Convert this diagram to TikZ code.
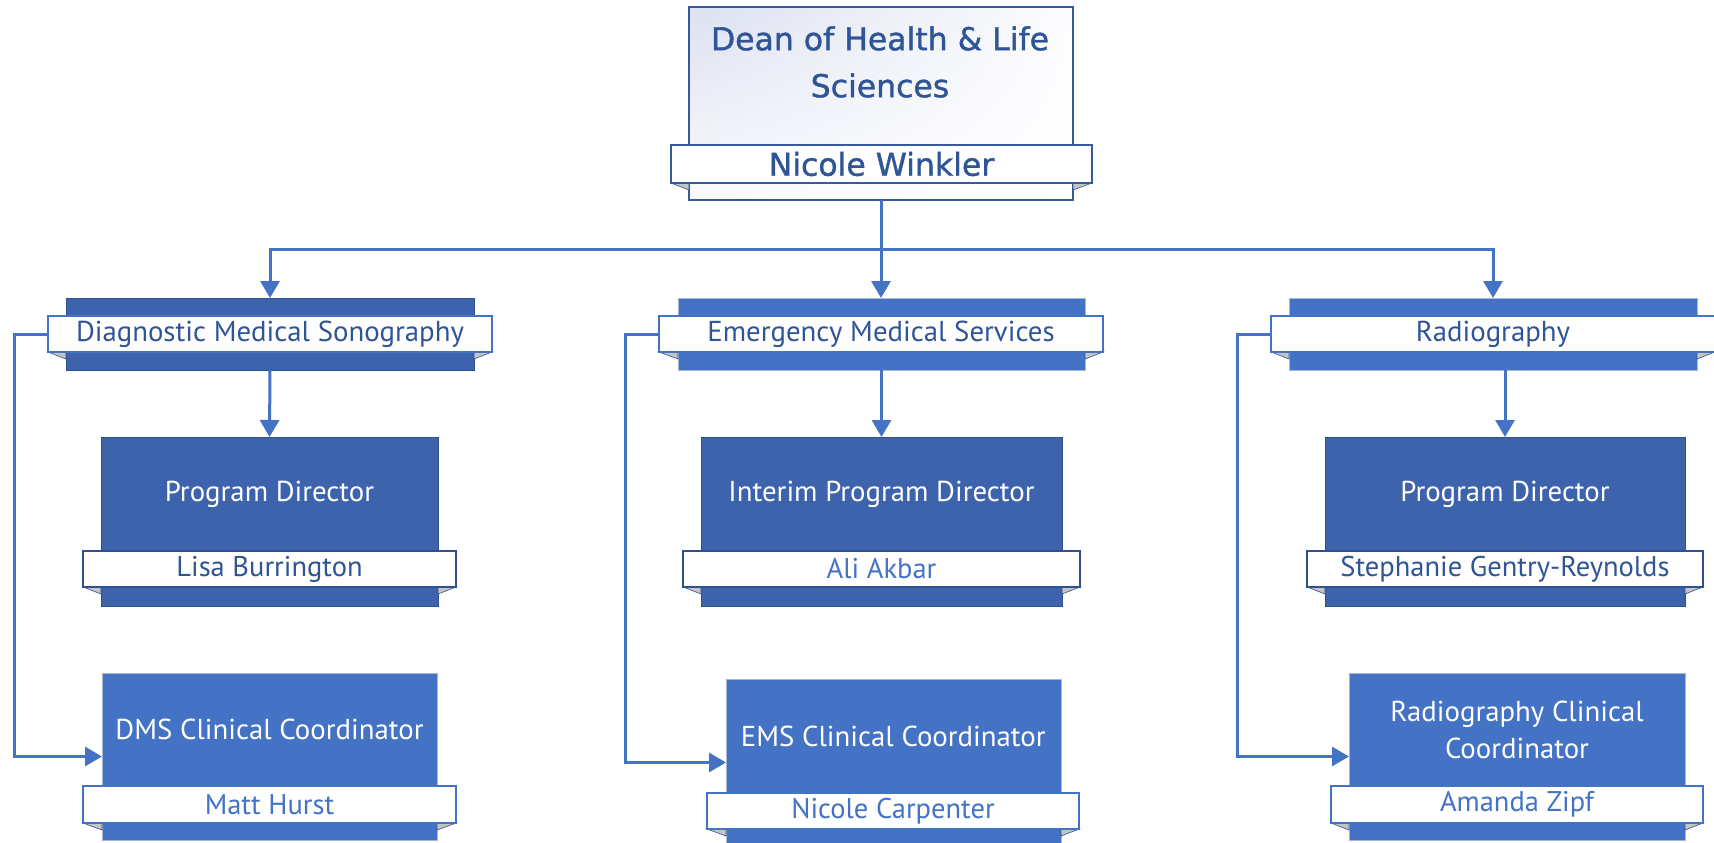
\documentclass[tikz,border=0pt]{standalone}
\usepackage{fontspec}
\setmainfont{PT Sans}
\newfontfamily\deanfont[FakeBold=1.2]{DejaVu Sans}
\usetikzlibrary{arrows.meta,calc,shadings}
\definecolor{lblue}{HTML}{4472C4}
\definecolor{dblue}{HTML}{3E63AD}
\definecolor{dtext}{HTML}{2F5597}
\definecolor{dedge}{HTML}{2F528F}
\definecolor{gedge}{HTML}{A9B6D0}
\definecolor{foldg}{HTML}{C4C4C4}
\definecolor{lav}{HTML}{DDE1F1}
\tikzset{
  every node/.style={inner sep=0pt,outer sep=0pt},
  darkbox/.style={rectangle,draw=dedge,line width=1pt,fill=dblue},
  lightbox/.style={rectangle,draw=gedge,line width=1pt,fill=lblue},
  banbase/.style={rectangle,fill=white,line width=1.3pt,font=\fontsize{28.5}{32}\selectfont},
  lvlban/.style={banbase,draw=lblue,text=dtext,font=\fontsize{28.8}{32}\selectfont},
  darkban/.style={banbase,draw=dedge},
  lightban/.style={banbase,draw=lblue},
  nametext/.style={text=#1},
  titletext/.style={text=white,align=center,font=\fontsize{28.8}{37}\selectfont},
  deanbox/.style={rectangle,draw=lblue!80!black,line width=1.3pt,upper left=lav,upper right=white!92!lav,lower left=white!85!lav,lower right=white},
  deanban/.style={rectangle,draw=lblue!80!black,line width=1.3pt,fill=white,text=dtext,font=\deanfont\fontsize{31.5}{36}\selectfont},
  deantext/.style={text=dtext,align=center,font=\deanfont\fontsize{31.5}{47}\selectfont},
  foldpiece/.style={fill=foldg,draw=dedge,line width=0.6pt},
  conn/.style={draw=lblue,line width=3pt},
  arr/.style={conn,-{Triangle[length=17pt,width=19pt]}}
}
\newcommand\ribbonfolds[2]{%
  \filldraw[foldpiece] (#2.south west) -- (#1.west |- #2.south) -- ++(0,7) -- cycle;
  \filldraw[foldpiece] (#2.south east) -- (#1.east |- #2.south) -- ++(0,7) -- cycle;}
\begin{document}
\begin{tikzpicture}[x=1pt,y=-1pt]
\useasboundingbox (0,0) rectangle (1714,843);
\fill[white] (0,0) rectangle (1714,843);

% Dean
\node[deanbox,minimum width=384,minimum height=193] (dean) at (881,103.5) {};
\node[deantext] (deantitle) at (880,62) {Dean of Health \& Life\\Sciences};
\node[minimum width=421,minimum height=38] (deanBg) at (881.5,164) {};
\ribbonfolds{dean}{deanBg}
\node[deanban,minimum width=421,minimum height=38] (deanB) at (881.5,164) {Nicole Winkler};

% Level 2
\node[darkbox,minimum width=408,minimum height=72] (dms) at (270,334) {};
\node[minimum width=444,minimum height=36] (dmsBg) at (270,334) {};
\ribbonfolds{dms}{dmsBg}
\node[lvlban,minimum width=444,minimum height=36] (dmsB) at (270,334) {Diagnostic Medical Sonography};

\node[lightbox,minimum width=407,minimum height=72] (ems) at (881.5,334) {};
\node[minimum width=444,minimum height=36] (emsBg) at (881,334) {};
\ribbonfolds{ems}{emsBg}
\node[lvlban,minimum width=444,minimum height=36] (emsB) at (881,334) {Emergency Medical Services};

\node[lightbox,minimum width=408,minimum height=72] (rad) at (1493,334) {};
\node[minimum width=444,minimum height=36] (radBg) at (1493,334) {};
\ribbonfolds{rad}{radBg}
\node[lvlban,minimum width=444,minimum height=36] (radB) at (1493,334) {Radiography};

% Program directors
\node[darkbox,minimum width=337,minimum height=169] (dmsPD) at (269.5,521.5) {};
\node[minimum width=373,minimum height=36] (dmsPDBg) at (269.5,569) {};
\ribbonfolds{dmsPD}{dmsPDBg}
\node[darkban,nametext=dtext,minimum width=373,minimum height=36] (dmsPDB) at (269.5,569) {Lisa Burrington};
\node[titletext] (dmsPDt) at ($(dmsPD.north)!0.5!(dmsPDB.north)$) {Program Director};

\node[darkbox,minimum width=361,minimum height=169] (emsPD) at (881.5,521.5) {};
\node[minimum width=397,minimum height=36] (emsPDBg) at (881.5,569) {};
\ribbonfolds{emsPD}{emsPDBg}
\node[darkban,nametext=lblue,minimum width=397,minimum height=36] (emsPDB) at (881.5,569) {Ali Akbar};
\node[titletext] (emsPDt) at ($(emsPD.north)!0.5!(emsPDB.north)$) {Interim Program Director};

\node[darkbox,minimum width=360,minimum height=169] (radPD) at (1505,521.5) {};
\node[minimum width=396,minimum height=36] (radPDBg) at (1505,569) {};
\ribbonfolds{radPD}{radPDBg}
\node[darkban,nametext=dtext,minimum width=396,minimum height=36] (radPDB) at (1505,569) {Stephanie Gentry-Reynolds};
\node[titletext] (radPDt) at ($(radPD.north)!0.5!(radPDB.north)$) {Program Director};

% Clinical coordinators
\node[lightbox,minimum width=335,minimum height=167] (dmsCC) at (269.5,756.5) {};
\node[minimum width=373,minimum height=37] (dmsCCBg) at (269.5,804.5) {};
\ribbonfolds{dmsCC}{dmsCCBg}
\node[lightban,nametext=lblue,minimum width=373,minimum height=37] (dmsCCB) at (269.5,804.5) {Matt Hurst};
\node[titletext] (dmsCCt) at ($(dmsCC.north)!0.5!(dmsCCB.north)$) {DMS Clinical Coordinator};

\node[lightbox,minimum width=335,minimum height=167] (emsCC) at (893.5,762.5) {};
\node[minimum width=372,minimum height=36] (emsCCBg) at (893,811) {};
\ribbonfolds{emsCC}{emsCCBg}
\node[lightban,nametext=lblue,minimum width=372,minimum height=36] (emsCCB) at (893,811) {Nicole Carpenter};
\node[titletext] (emsCCt) at ($(emsCC.north)!0.5!(emsCCB.north)$) {EMS Clinical Coordinator};

\node[lightbox,minimum width=336,minimum height=167] (radCC) at (1517,756.5) {};
\node[minimum width=372,minimum height=37] (radCCBg) at (1517,804.5) {};
\ribbonfolds{radCC}{radCCBg}
\node[lightban,nametext=lblue,minimum width=372,minimum height=37] (radCCB) at (1517,804.5) {Amanda Zipf};
\node[titletext] (radCCt) at ($(radCC.north)!0.5!(radCCB.north)$) {Radiography Clinical\\Coordinator};

% Connectors
\coordinate (bus) at (881,249);
\draw[arr] (dean.south) -- (bus) -| (dms.north);
\draw[arr] (bus) -- (bus |- ems.north);
\draw[arr] (bus) -| (rad.north);
\draw[arr] (dms.south) -- (dmsPD.north);
\draw[arr] (ems.south) -- (emsPD.north);
\draw[arr] (radPD.north |- rad.south) -- (radPD.north);
\draw[arr] (dmsB.west) -- ++(-34,0) |- (dmsCC.west);
\draw[arr] (emsB.west) -- ++(-34,0) |- (emsCC.west);
\draw[arr] (radB.west) -- ++(-34,0) |- (radCC.west);
\end{tikzpicture}
\end{document}
